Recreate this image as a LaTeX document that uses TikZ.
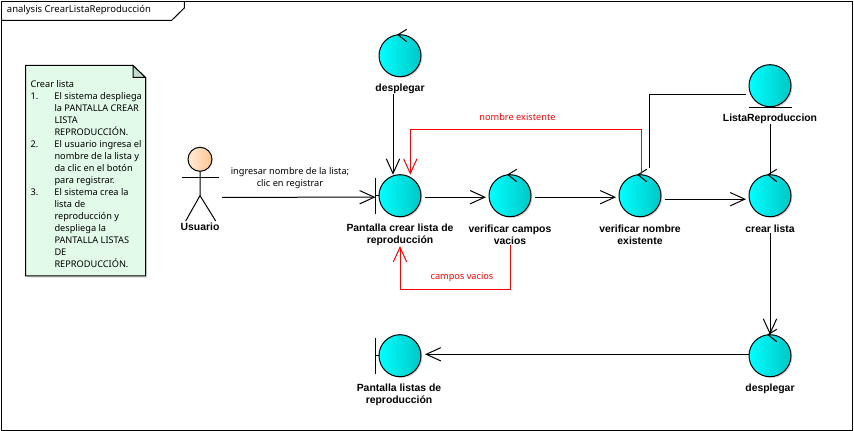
\documentclass[tikz,border=0pt]{standalone}
\usepackage{fontspec}
\setmainfont{Liberation Sans}
\newfontfamily\notefont{Noto Sans}
\usetikzlibrary{arrows.meta,shadows}

\definecolor{noteGreen}{RGB}{226,250,232}
\definecolor{foldGreen}{RGB}{196,220,208}

\tikzset{
	ball/.style={draw, circle, minimum size=31.5pt, inner sep=0pt, outer sep=0pt, left color=cyan, right color=cyan!78!black, drop shadow={shadow xshift=1pt, shadow yshift=-1pt, opacity=0.3}},
	lbl/.style={inner sep=0pt, align=center, font=\fontsize{7.8}{9}\selectfont\bfseries},
	msg/.style={inner sep=0pt, align=center, font=\notefont\fontsize{6.9}{9}\selectfont},
	flow/.style={-{Straight Barb[length=11pt, width=10pt]}},
	alert/.style={flow, red},
}
\newcommand{\notenum}[1]{\makebox[18pt][l]{#1}}

\begin{document}
\begin{tikzpicture}[x=0.75pt, y=-0.75pt, line width=0.75pt]
	\useasboundingbox (0,0) rectangle (854,431);

	% frame
	\draw (1.5,1.5) rectangle (852.5,430);
	\draw (1.5,20.3) -- (171.7,20.3) -- (184.3,8) -- (184.3,1.5);
	\node[anchor=west, inner sep=0pt, font=\notefont\fontsize{7.1}{9}\selectfont\bfseries] (title) at (6.5,10.5) {analysis CrearListaReproducción};

	% note
	\draw[fill=noteGreen, drop shadow={shadow xshift=1.2pt, shadow yshift=-1.2pt, opacity=0.3}] (25.5,65.5) -- (133,65.5) -- (145.5,77.5) -- (145.5,276) -- (25.5,276) -- cycle;
	\draw[fill=foldGreen] (133,65.5) -- (145.5,77.5) -- (133,77.5) -- cycle;
	\node[anchor=north west, inner sep=0pt, align=left, font=\notefont\fontsize{6.9}{9}\selectfont] (note) at (30,80) {\textbf{Crear lista}\\
		\notenum{1.}El sistema despliega\\
		\notenum{}la PANTALLA CREAR\\
		\notenum{}LISTA\\
		\notenum{}REPRODUCCIÓN.\\
		\notenum{2.}El usuario ingresa el\\
		\notenum{}nombre de la lista y\\
		\notenum{}da clic en el botón\\
		\notenum{}para registrar.\\
		\notenum{3.}El sistema crea la\\
		\notenum{}lista de\\
		\notenum{}reproducción y\\
		\notenum{}despliega la\\
		\notenum{}PANTALLA LISTAS\\
		\notenum{}DE\\
		\notenum{}REPRODUCCIÓN.};

	% actor
	\node[draw, circle, minimum size=18pt, inner sep=0pt, outer sep=0pt, left color=orange!15!white, right color=orange!45!white] (head) at (200,159.3) {};
	\draw (head.south) -- ++(0,24.3) coordinate (hip) -- ++(-14.3,25.4);
	\draw (hip) -- ++(15.7,25.4);
	\draw (182,177.3) -- (219,177.3);
	\node[lbl] (usuario) at (200,226.7) {Usuario};

	% balls
	\node[ball] (desplegarA) at (400,55.7) {};
	\node[ball] (pantallaCrear) at (400,195.7) {};
	\node[ball] (verCampos) at (510,195.7) {};
	\node[ball] (verNombre) at (640,195.7) {};
	\node[ball] (crearLista) at (770,195.7) {};
	\node[ball] (listaRep) at (770,85.7) {};
	\node[ball] (desplegarB) at (770,355.7) {};
	\node[ball] (pantallaListas) at (400,355.7) {};

	% ticks and bars
	\foreach \n in {desplegarA, verCampos, verNombre, crearLista, desplegarB}
		\draw ([shift={(6.7,-5.4)}]\n.north) -- ([shift={(-2,0)}]\n.north) -- ([shift={(6.7,7)}]\n.north);
	\foreach \n in {pantallaCrear, pantallaListas} {
		\draw ([shift={(-3.5,-18)}]\n.west) -- ([shift={(-3.5,18.5)}]\n.west);
		\draw ([shift={(-3.5,0)}]\n.west) -- (\n.west);
	}
	\draw ([shift={(-20.7,0.6)}]listaRep.south) -- ([shift={(21.7,0.6)}]listaRep.south);

	% labels
	\node[lbl] (lblDesplegarA) at (400,88.7) {desplegar};
	\node[lbl] (lblPantallaCrear) at (400,234.7) {Pantalla crear lista de\\reproducción};
	\node[lbl] (lblVerCampos) at (510,234.7) {verificar campos\\vacios};
	\node[lbl] (lblVerNombre) at (640,234.7) {verificar nombre\\existente};
	\node[lbl] (lblCrearLista) at (770,228.7) {crear lista};
	\node[lbl] (lblListaRep) at (770,118.7) {ListaReproduccion};
	\node[lbl] (lblDesplegarB) at (770,388.7) {desplegar};
	\node[lbl] (lblPantallaListas) at (399,394.7) {Pantalla listas de\\reproducción};

	% connectors
	\draw[flow] ([shift={(22,38)}]head.center) -- ([shift={(-3.5,1.5)}]pantallaCrear.west);
	\node[msg] (msgIngresar) at (290,178) {ingresar nombre de la lista;\\clic en registrar};
	\draw[flow] ([shift={(-7,0)}]lblDesplegarA.south) -- ([shift={(-7,0)}]pantallaCrear.north);
	\draw[flow] ([shift={(4,1.5)}]pantallaCrear.east) -- ([shift={(-3,1.5)}]verCampos.west);
	\draw[flow] ([shift={(4,1.5)}]verCampos.east) -- ([shift={(-3,1.5)}]verNombre.west);
	\draw[flow] ([shift={(4,3.5)}]verNombre.east) -- ([shift={(-3,3.5)}]crearLista.west);
	\draw ([shift={(-3,8.6)}]listaRep.west) -| ([shift={(9.7,-6.7)}]verNombre.north);
	\draw (lblListaRep.south) -- (crearLista.north);
	\draw[flow] (lblCrearLista.south) -- (desplegarB.north);
	\draw[flow] ([shift={(-0.5,-1.4)}]desplegarB.west) -- ([shift={(4,-1.4)}]pantallaListas.east);

	\draw[alert] ([shift={(1.7,0)}]verNombre.north) -- ++(0,-45.4) -| ([shift={(10.3,0)}]pantallaCrear.north);
	\node[msg, text=red] (msgExistente) at (517.5,117) {nombre existente};
	\draw[alert] (lblVerCampos.south) -- ++(0,44) -| (lblPantallaCrear.south);
	\node[msg, text=red] (msgVacios) at (462,277) {campos vacios};

\end{tikzpicture}
\end{document}
